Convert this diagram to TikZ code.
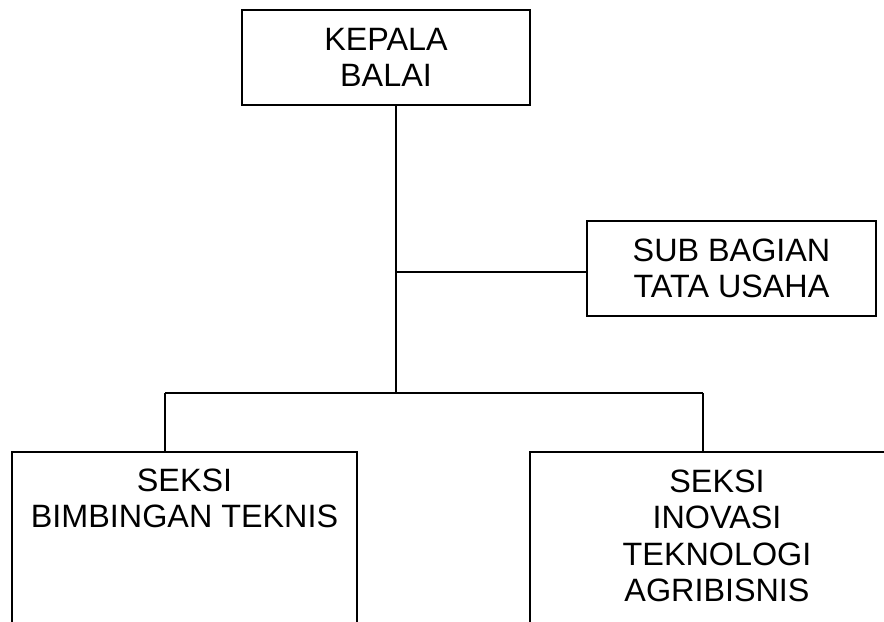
\documentclass[tikz,border=0pt]{standalone}
\usepackage{fontspec}
\setmainfont{Liberation Sans}
\usepackage{tikz}
\usetikzlibrary{
    shapes,
    positioning,
    calc
}
\tikzset{
  basic/.style = {
      draw,
      line width=1.14pt,
      rectangle,
      align=center,
      inner sep=0pt,
      font=\fontsize{18.4}{20.1}\selectfont
  },
  unit/.style = {
      basic,
      minimum width=5.78cm,
      minimum height=1.92cm
  },
  seksi/.style = {
      basic,
      anchor=north,
      minimum height=5cm
  },
  caption/.style = {
      draw=none,
      anchor=north,
      align=center,
      inner sep=0pt,
      font=\fontsize{18.4}{20.7}\selectfont
  },
  link/.style = {
      line width=0.85pt
  }
}
\begin{document}
\begin{tikzpicture}[x=0.02cm, y=-0.02cm]
    \path[use as bounding box, clip] (0,0) rectangle (884,621);
    % Nodes
    \node[unit] (kepala) at (386,57.5) {KEPALA\\BALAI};
    \node[unit] (tu) at (731.5,268.5) {SUB BAGIAN\\TATA USAHA};
    \node[seksi, minimum width=6.9cm] (bimtek) at (184.5,451) {};
    \node[seksi, minimum width=7.48cm] (inovasi) at (717,451) {};
    \node[caption, below=0.35cm of bimtek.north] (bimtek text)
        {SEKSI\\BIMBINGAN TEKNIS};
    \node[caption, below=0.37cm of inovasi.north] (inovasi text)
        {SEKSI\\INOVASI\\TEKNOLOGI\\AGRIBISNIS};
    \coordinate (trunk) at (396,393);
    \coordinate (left) at (165,393);
    \coordinate (right) at (703,393);
    % Edges
    \path[draw, link]
    (kepala.south -| trunk) -- (trunk)
    (trunk |- 0,272) -- (tu.west |- 0,272)
    (left) -- (right)
    (left) -- (left |- bimtek.north)
    (right) -- (right |- inovasi.north);
\end{tikzpicture}
\end{document}
